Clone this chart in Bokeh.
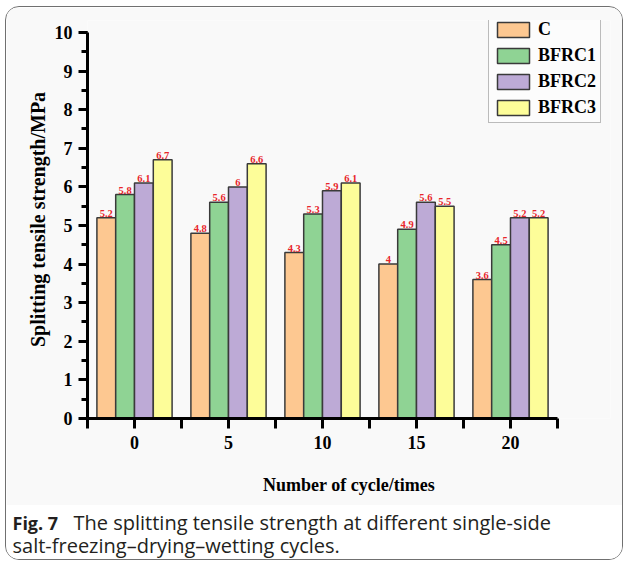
from bokeh.plotting import figure
from bokeh.layouts import column
from bokeh.models import ColumnDataSource, FixedTicker, Legend, LegendItem
from bokeh.core.properties import value
from bokeh.transform import dodge
from bokeh.embed import file_html
from bokeh.resources import INLINE

# Splitting tensile strength (MPa) after each number of cycles
cycles = [0, 5, 10, 15, 20]
series_names = ["C", "BFRC1", "BFRC2", "BFRC3"]
strength_c = [5.2, 4.8, 4.3, 4.0, 3.6]
strength_bfrc1 = [5.8, 5.6, 5.3, 4.9, 4.5]
strength_bfrc2 = [6.1, 6.0, 5.9, 5.6, 5.2]
strength_bfrc3 = [6.7, 6.6, 6.1, 5.5, 5.2]
y_ticks = list(range(0, 11))
x_ticks = [0, 5, 10, 15, 20]

series_values = [strength_c, strength_bfrc1, strength_bfrc2, strength_bfrc3]
fills = ["#fdc891", "#8fd394", "#bdaad6", "#fdfd99"]
offsets = [-1.5, -0.5, 0.5, 1.5]

SERIF = "Liberation Serif"
SANS = "Open Sans"
PANEL = "#f9f9f9"

W = 616

# the frame is a little wider and taller than the axes so the legend fits in it
p = figure(width=W, height=498, output_backend="svg", toolbar_location=None,
           x_range=(-2.5, 25.32), y_range=(0, 10.31),
           min_border_left=81, min_border_right=12,
           min_border_top=13, min_border_bottom=87,
           background_fill_color=PANEL, border_fill_color=PANEL,
           outline_line_color=None, frame_align=False)
p.grid.visible = False

items = []
for name, vals, color, off in zip(series_names, series_values, fills, offsets):
    src = ColumnDataSource(dict(x=cycles, y=vals,
                                txt=[f"{v:g}" for v in vals]))
    r = p.vbar(x=dodge("x", off), top="y", bottom=0, width=1.0, source=src,
               fill_color=color, line_color="#3a3a3a", line_width=1.5)
    p.text(x=dodge("x", off), y="y", text="txt", source=src,
           text_align="center", text_baseline="bottom", y_offset=-1,
           text_font=value(SERIF), text_font_style="bold",
           text_font_size="10.5px", text_color="#e8262b")
    items.append(LegendItem(label=name, renderers=[r]))

# axes
p.yaxis.ticker = FixedTicker(ticks=y_ticks,
                             minor_ticks=[t / 2 for t in range(0, 21)])
p.xaxis.ticker = FixedTicker(ticks=x_ticks,
                             minor_ticks=[-2.5, 2.5, 7.5, 12.5, 17.5, 22.5])
p.xaxis.bounds = (-2.5, 22.5)
p.yaxis.bounds = (0, 10)
for ax in (p.xaxis, p.yaxis):
    ax.axis_line_width = 3
    ax.axis_line_color = "black"
    ax.major_tick_line_width = 3
    ax.minor_tick_line_width = 3
    ax.major_tick_in = 0
    ax.minor_tick_in = 0
    ax.major_label_text_font = SERIF
    ax.major_label_text_font_style = "bold"
    ax.major_label_text_font_size = "18px"
    ax.major_label_text_color = "black"
    ax.axis_label_text_font = SERIF
    ax.axis_label_text_font_style = "bold"
    ax.axis_label_text_color = "black"

p.yaxis.major_tick_out = 9
p.yaxis.minor_tick_out = 6
p.yaxis.major_label_standoff = 6
p.yaxis.axis_label = "Splitting tensile strength/MPa"
p.yaxis.axis_label_text_font_size = "20px"
p.yaxis.axis_label_standoff = 3

p.xaxis.major_tick_out = 10
p.xaxis.minor_tick_out = 10
p.xaxis.major_label_standoff = 7
p.xaxis.axis_label = "Number of cycle/times"
p.xaxis.axis_label_text_font_size = "18px"
p.xaxis.axis_label_standoff = 23

legend = Legend(items=items, location=(401, 295),
                glyph_width=40, glyph_height=19, label_height=19,
                label_standoff=5, spacing=5, padding=4, margin=0,
                label_text_font=SERIF, label_text_font_style="bold",
                label_text_font_size="18px", label_text_color="black",
                border_line_color="#7a7a7a", border_line_width=1,
                background_fill_color="#fcfcfc", background_fill_alpha=1)
p.add_layout(legend, "center")

# figure caption, laid out in pixel coordinates of its own panel
CAP_H = 54
cap = figure(width=W, height=CAP_H, output_backend="svg", toolbar_location=None,
             x_range=(0, W), y_range=(CAP_H, 0), min_border=0,
             x_axis_location=None, y_axis_location=None,
             background_fill_color="white", border_fill_color="white",
             outline_line_color=None, frame_align=False)
cap.grid.visible = False
cap_color = "#231f20"
cap.text(x=[6], y=[17], text=["Fig. 7"], text_font=value(SANS),
         text_font_style="bold", text_font_size="18px",
         text_color=cap_color, text_baseline="alphabetic")
cap.text(x=[67], y=[17],
         text=["The splitting tensile strength at different single-side"],
         text_font=value(SANS), text_font_size="20px",
         text_color=cap_color, text_baseline="alphabetic")
cap.text(x=[6], y=[40], text=["salt-freezing\u2013drying\u2013wetting cycles."],
         text_font=value(SANS), text_font_size="20px",
         text_color=cap_color, text_baseline="alphabetic")

page = column(p, cap, spacing=0, margin=(6, 0, 0, 5),
              styles={"border": "1.3px solid #707070",
                      "border-radius": "14px", "overflow": "hidden"})

open("out.html", "w").write(file_html(page, INLINE))
